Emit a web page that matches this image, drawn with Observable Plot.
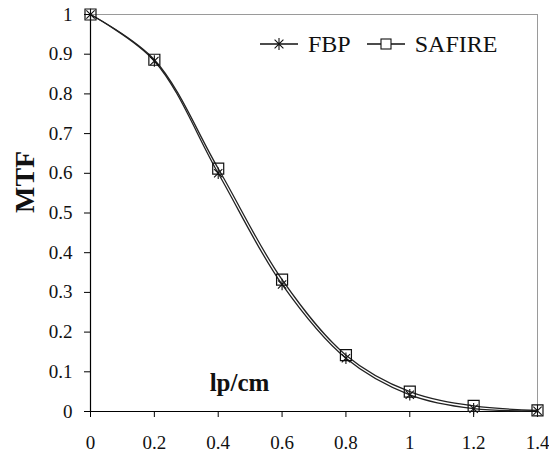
<!DOCTYPE html>
<html>
<head>
<meta charset="utf-8">
<script src="https://cdn.jsdelivr.net/npm/d3@7"></script>
<script src="https://cdn.jsdelivr.net/npm/@observablehq/plot@0.6"></script>
<style>
  html, body { margin: 0; padding: 0; background: #fff; }
  #wrap { position: relative; width: 549px; height: 454px; }
  #legend { position: absolute; left: 259px; top: 30px; font-size: 24px; color: #111; display: flex; align-items: center; white-space: nowrap; line-height: 28px; }
  #legend .item { display: flex; align-items: center; margin-right: 15px; }
  #legend svg { margin-right: 9px; }
</style>
</head>
<body>
<div id="wrap"></div>
<script>
const freq = [0, 0.2, 0.4, 0.6, 0.8, 1.0, 1.2, 1.4];
const fbp = [1.0, 0.883, 0.600, 0.320, 0.134, 0.042, 0.007, 0.002];
const safire = [1.0, 0.886, 0.612, 0.332, 0.142, 0.050, 0.014, 0.003];
const seriesNames = ["FBP", "SAFIRE"];
const xTicks = [0, 0.2, 0.4, 0.6, 0.8, 1, 1.2, 1.4];
const xTickLabels = ["0", "0.2", "0.4", "0.6", "0.8", "1", "1.2", "1.4"];
const yTicks = [0, 0.1, 0.2, 0.3, 0.4, 0.5, 0.6, 0.7, 0.8, 0.9, 1];
const yTickLabels = ["0", "0.1", "0.2", "0.3", "0.4", "0.5", "0.6", "0.7", "0.8", "0.9", "1"];
const yTitle = "MTF";
const xTitle = "lp/cm";
const FONT = "Liberation Serif";

const rows = [];
freq.forEach((f, i) => {
  rows.push({series: seriesNames[0], x: f, y: fbp[i]});
  rows.push({series: seriesNames[1], x: f, y: safire[i]});
});

// Excel-like star marker: vertical line + two 45° diagonals
const star = {
  draw(ctx, size) {
    const r = Math.sqrt(size) * 0.5;
    const d = r * 0.72;
    ctx.moveTo(0, -r); ctx.lineTo(0, r);
    ctx.moveTo(-d, -d); ctx.lineTo(d, d);
    ctx.moveTo(-d, d); ctx.lineTo(d, -d);
  }
};

const chart = Plot.plot({
  width: 549,
  height: 454,
  marginLeft: 90,
  marginRight: 12,
  marginTop: 14,
  marginBottom: 43,
  style: {fontFamily: FONT, fontSize: "19px", color: "#111", background: "#fff", overflow: "visible"},
  x: {domain: [0, 1.4]},
  y: {domain: [0, 1]},
  marks: [
    Plot.ruleY([1], {stroke: "#9a9a9a", strokeWidth: 1}),
    Plot.ruleX([1.4], {stroke: "#9a9a9a", strokeWidth: 1}),
    Plot.axisX({ticks: xTicks, tickFormat: (d, i) => xTickLabels[i], tickSize: 6, tickPadding: 18, label: null, stroke: "#000", fontSize: 19, fontFamily: FONT}),
    Plot.axisY({ticks: yTicks, tickFormat: (d, i) => yTickLabels[i], tickSize: 6, tickPadding: 12, label: null, stroke: "#000", fontSize: 19, fontFamily: FONT}),
    Plot.ruleY([0], {stroke: "#000", strokeWidth: 1.2}),
    Plot.ruleX([0], {stroke: "#000", strokeWidth: 1.2}),
    Plot.line(rows, {x: "x", y: "y", z: "series", curve: "catmull-rom", stroke: "#222", strokeWidth: 1.3}),
    Plot.dot(rows.filter(d => d.series === "SAFIRE"), {x: "x", y: "y", symbol: "square", r: 6.2, stroke: "#111", strokeWidth: 1.2, fill: "none"}),
    Plot.dot(rows.filter(d => d.series === "FBP"), {x: "x", y: "y", symbol: star, r: 6.5, stroke: "#111", strokeWidth: 1.1, fill: "none"}),
    Plot.text([yTitle], {frameAnchor: "left", text: d => d, dx: -65, rotate: -90, fontWeight: "bold", fontSize: 28, fontFamily: FONT, fill: "#111"}),
    Plot.text([xTitle], {frameAnchor: "bottom-left", text: d => d, dx: 149, dy: -21, textAnchor: "middle", fontWeight: "bold", fontSize: 25, fontFamily: FONT, fill: "#111"})
  ]
});

const wrap = document.getElementById("wrap");
wrap.appendChild(chart);

// legend
const legend = document.createElement("div");
legend.id = "legend";
legend.style.fontFamily = "'Liberation Serif'";
const ns = "http://www.w3.org/2000/svg";
seriesNames.forEach((name) => {
  const item = document.createElement("div");
  item.className = "item";
  const s = document.createElementNS(ns, "svg");
  s.setAttribute("width", 40); s.setAttribute("height", 20);
  const g = d3.select(s);
  g.append("line").attr("x1", 1).attr("x2", 39).attr("y1", 10).attr("y2", 10).attr("stroke", "#111").attr("stroke-width", 1.3);
  if (name === "FBP") {
    g.append("path").attr("transform", "translate(20,10)").attr("d", d3.symbol(star, 150)()).attr("stroke", "#111").attr("stroke-width", 1.1).attr("fill", "none");
  } else {
    g.append("rect").attr("x", 15).attr("y", 5).attr("width", 10).attr("height", 10).attr("stroke", "#111").attr("stroke-width", 1.1).attr("fill", "#fff");
  }
  item.appendChild(s);
  const t = document.createElement("span");
  t.style.fontFamily = "'Liberation Serif'";
  t.textContent = name;
  item.appendChild(t);
  legend.appendChild(item);
});
wrap.appendChild(legend);
</script>
</body>
</html>
